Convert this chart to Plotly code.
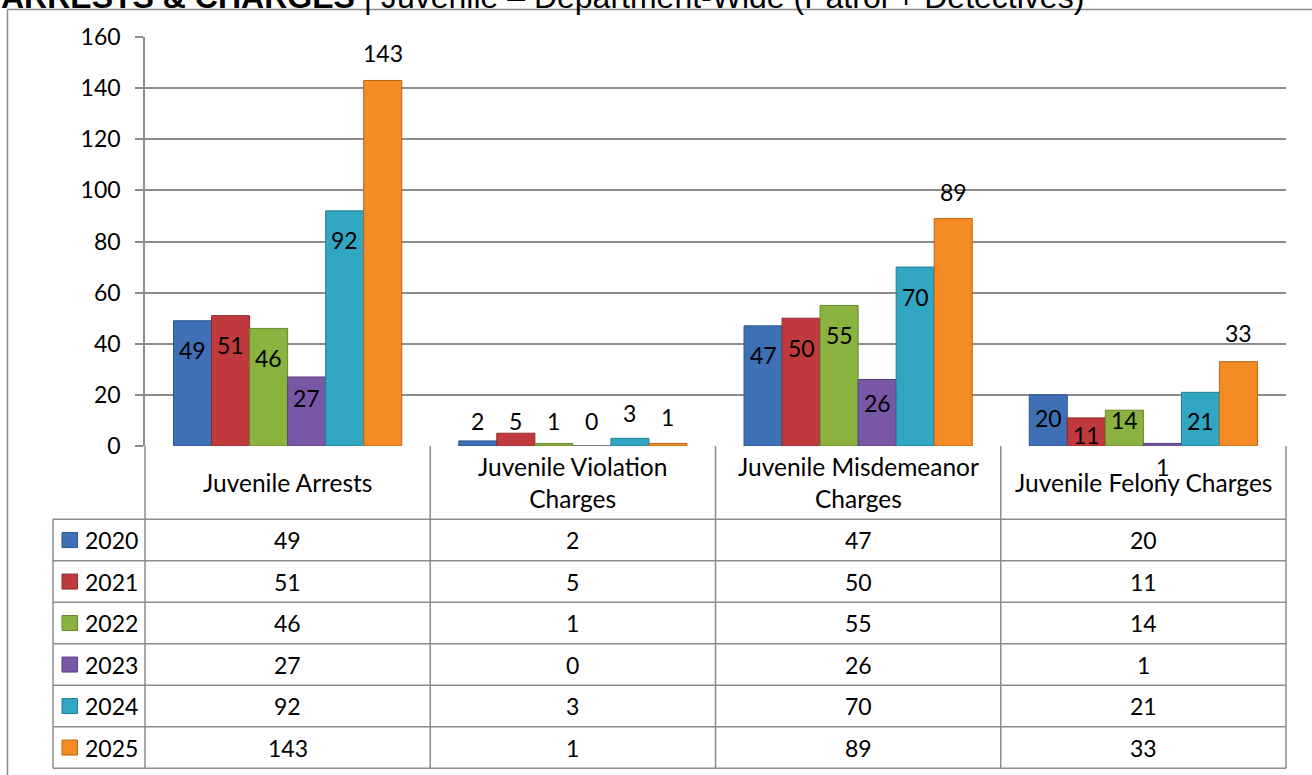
import plotly.graph_objects as go

# ---------------- data ----------------
categories = ["Juvenile Arrests", "Juvenile Violation Charges",
              "Juvenile Misdemeanor Charges", "Juvenile Felony Charges"]
header_labels = ["Juvenile Arrests", "Juvenile Violation<br>Charges",
                 "Juvenile Misdemeanor<br>Charges", "Juvenile Felony Charges"]
years = ["2020", "2021", "2022", "2023", "2024", "2025"]
v2020 = [49, 2, 47, 20]
v2021 = [51, 5, 50, 11]
v2022 = [46, 1, 55, 14]
v2023 = [27, 0, 26, 1]
v2024 = [92, 3, 70, 21]
v2025 = [143, 1, 89, 33]
y_ticks = [0, 20, 40, 60, 80, 100, 120, 140, 160]
title_bold = "ARRESTS & CHARGES"
title_rest = " | Juvenile – Department-Wide (Patrol + Detectives)"

series = [v2020, v2021, v2022, v2023, v2024, v2025]

# ---------------- styles ----------------
fills = ["#3F6FB5", "#C0393D", "#8BB23F", "#7857A6", "#31A6C3", "#F48B25"]
edges = ["#2D5591", "#8F2A2D", "#668530", "#573F7C", "#237D93", "#B8661A"]
# vertical offset (px) of each data label from the bar top, per series / category
label_dy = [
    [-29, 20, -29, -23],
    [-29, 12, -30, -17],
    [-30, 22, -30, -10],
    [-21, 25, -23, -24],
    [-29, 25, -30, -29],
    [27, 26, 26, 29],
]
FONT = "Lato"
FS_NUM = 23
FS_TXT = 24.5
GRID = "#8C8C8C"

W, H = 1312, 775
L, R, T, B = 145, 26, 37, 329
PW = W - L - R
PH = H - T - B


def px_x(px):
    return (px - L) / PW


def px_y(py):
    return (H - B - py) / PH


fig = go.Figure()
for j, (yr, vals) in enumerate(zip(years, series)):
    fig.add_trace(go.Bar(
        x=categories, y=vals, name=yr,
        marker=dict(color=fills[j], line=dict(color=edges[j], width=1)),
        showlegend=False, hoverinfo="x+y+name",
    ))

ann = []
shapes = []
nser = len(series)
group_w = 0.8
for j, vals in enumerate(series):
    for i, v in enumerate(vals):
        xpos = i - group_w / 2 + (j + 0.5) * group_w / nser
        ann.append(dict(x=xpos, y=v, xref="x", yref="y", text=str(v),
                        showarrow=False, yshift=label_dy[j][i],
                        xanchor="center", yanchor="middle",
                        font=dict(family=FONT, size=FS_NUM, color="black")))

# ---------- data table below the chart ----------
header_top = H - B
row_top = 519.3
row_h = 41.5
nrows = len(years)
table_bottom = row_top + row_h * nrows
legend_left = 53
line_style = dict(color=GRID, width=1.5)

ncat = len(categories)
for k in range(ncat + 1):
    shapes.append(dict(type="line", xref="paper", yref="paper",
                       x0=k / ncat, x1=k / ncat,
                       y0=px_y(header_top), y1=px_y(table_bottom), line=line_style))
for r in range(nrows + 1):
    yy = px_y(row_top + r * row_h)
    shapes.append(dict(type="line", xref="paper", yref="paper",
                       x0=px_x(legend_left), x1=1, y0=yy, y1=yy, line=line_style))
shapes.append(dict(type="line", xref="paper", yref="paper",
                   x0=px_x(legend_left), x1=px_x(legend_left),
                   y0=px_y(row_top), y1=px_y(table_bottom), line=line_style))

# header labels
for i, lab in enumerate(header_labels):
    ann.append(dict(x=i, xref="x", y=px_y((header_top + row_top) / 2), yref="paper",
                    text=lab, showarrow=False, xanchor="center", yanchor="middle",
                    font=dict(family=FONT, size=FS_TXT, color="black")))

# rows
for r, (yr, vals) in enumerate(zip(years, series)):
    yc = row_top + (r + 0.5) * row_h
    shapes.append(dict(type="rect", xref="paper", yref="paper",
                       x0=px_x(62), x1=px_x(77.5),
                       y0=px_y(yc - 7.5), y1=px_y(yc + 7.5),
                       fillcolor=fills[r], line=dict(color=edges[r], width=1)))
    ann.append(dict(x=px_x(83), xref="paper", y=px_y(yc), yref="paper",
                    text=yr, showarrow=False, xanchor="left", yanchor="middle",
                    font=dict(family=FONT, size=FS_NUM, color="black")))
    for i, v in enumerate(vals):
        ann.append(dict(x=i, xref="x", y=px_y(yc), yref="paper",
                        text=str(v), showarrow=False, xanchor="center", yanchor="middle",
                        font=dict(family=FONT, size=FS_NUM, color="black")))

# outer frame
shapes.append(dict(type="line", xref="paper", yref="paper",
                   x0=px_x(7.5), x1=px_x(W + 5), y0=px_y(9.5), y1=px_y(9.5), line=line_style))
shapes.append(dict(type="line", xref="paper", yref="paper",
                   x0=px_x(7.5), x1=px_x(7.5), y0=px_y(9.5), y1=px_y(H + 5), line=line_style))

# clipped title at the very top
ann.append(dict(x=px_x(-1), xref="paper", y=px_y(-3), yref="paper",
                xanchor="left", yanchor="middle", showarrow=False,
                text="<b>" + title_bold + "</b>" + title_rest,
                font=dict(family="Liberation Sans", size=32, color="black")))

fig.update_layout(
    width=W, height=H,
    margin=dict(l=L, r=R, t=T, b=B, pad=0),
    paper_bgcolor="white", plot_bgcolor="white",
    barmode="group", bargap=0.2, bargroupgap=0,
    annotations=ann, shapes=shapes,
    xaxis=dict(showticklabels=False, showgrid=False, showline=False, ticks="",
               zeroline=False, range=[-0.5, ncat - 0.5]),
    yaxis=dict(range=[0, 160], tickvals=y_ticks, showgrid=True, gridcolor=GRID,
               gridwidth=1.5, zeroline=False, showline=True, linecolor=GRID,
               linewidth=1.5, ticks="outside", ticklen=8, tickcolor=GRID,
               tickwidth=1.5, ticklabelstandoff=10,
               tickfont=dict(family=FONT, size=FS_NUM, color="black")),
)

fig.write_html("out.html", config={"displayModeBar": False},
               post_script="document.body.style.margin='0px';document.body.style.overflow='hidden';")
